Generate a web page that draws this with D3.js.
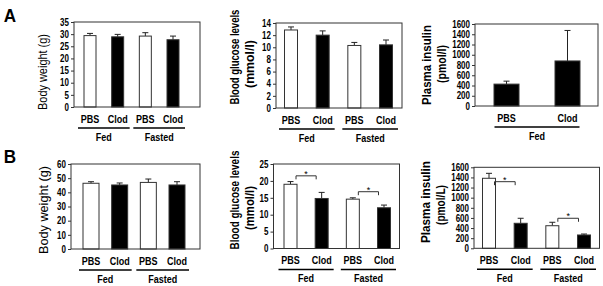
<!DOCTYPE html>
<html lang="en">
<head>
<meta charset="UTF-8">
<title>Clodronate panels</title>
<script src="https://d3js.org/d3.v7.min.js"></script>
<style>
  body { margin: 0; background: #fff; }
  svg { display: block; }
  text { font-family: "Liberation Sans", Arial, sans-serif; }
</style>
</head>
<body>
<svg></svg>
<script>
const w = 603, h = 286;

// data
const groups = ["Fed", "Fasted"];
const treatments = ["PBS", "Clod"];

const weightA = [29.4, 28.9, 29.2, 27.7];
const weightAErr = [0.9, 1.0, 1.4, 1.5];
const glucoseA = [12.85, 12.0, 10.3, 10.4];
const glucoseAErr = [0.5, 0.7, 0.5, 0.8];
const insulinA = [427, 879];
const insulinAErr = [58, 595];

const weightB = [46.4, 45.2, 47.0, 45.2];
const weightBErr = [1.1, 1.4, 2.4, 2.3];
const glucoseB = [19.0, 14.8, 14.6, 12.05];
const glucoseBErr = [0.8, 1.8, 0.4, 0.8];
const glucoseBSig = [21.5, 16.8];
const insulinB = [1383, 494, 446, 263];
const insulinBErr = [98, 99, 68, 19];
const insulinBSig = [1316, 593];

const ticks35 = [0, 5, 10, 15, 20, 25, 30, 35];
const ticks14 = [0, 2, 4, 6, 8, 10, 12, 14];
const ticks1600 = [0, 200, 400, 600, 800, 1000, 1200, 1400, 1600];
const ticks60 = [0, 10, 20, 30, 40, 50, 60];
const ticks25 = [0, 5, 10, 15, 20, 25];

const svg = d3.select("svg").attr("width", w).attr("height", h);

// condensed text: place at (x, y) and squeeze horizontally
function narrowText(parent, x, y, str, size, sx) {
  return parent.append("text")
    .attr("transform", `translate(${x},${y}) scale(${sx},1)`)
    .attr("text-anchor", "middle").attr("font-size", size).attr("font-weight", "bold")
    .text(str);
}

narrowText(svg, 10, 22, "A", 19, 0.9);
narrowText(svg, 10, 163, "B", 19, 0.9);

function panel(o) {
  const g = svg.append("g");
  const groupList = o.groups || groups;
  const keys = [];
  groupList.forEach(gr => treatments.forEach(t => keys.push(gr + "|" + t)));

  const x = d3.scalePoint().domain(keys).range([o.left + o.padL, o.right - o.padR]);
  const y = d3.scaleLinear().domain([0, o.ticks[o.ticks.length - 1]]).range([o.bottom, o.top]);

  const rows = keys.map((k, i) => ({
    key: k, group: k.split("|")[0], treat: k.split("|")[1],
    v: o.values[i], e: o.errors[i]
  }));

  // error bars
  g.selectAll(".err").data(rows).enter().append("line")
    .attr("x1", d => x(d.key)).attr("x2", d => x(d.key))
    .attr("y1", d => y(d.v)).attr("y2", d => y(d.v + d.e))
    .attr("stroke", "#222").attr("stroke-width", 1);
  g.selectAll(".cap").data(rows).enter().append("line")
    .attr("x1", d => x(d.key) - 3).attr("x2", d => x(d.key) + 3)
    .attr("y1", d => y(d.v + d.e)).attr("y2", d => y(d.v + d.e))
    .attr("stroke", "#222").attr("stroke-width", 1);

  // bars
  g.selectAll(".bar").data(rows).enter().append("rect")
    .attr("x", d => x(d.key) - o.barW / 2)
    .attr("width", o.barW)
    .attr("y", d => y(d.v))
    .attr("height", d => y(0) - y(d.v))
    .attr("fill", d => (d.treat === "PBS" && !o.allBlack) ? "#fff" : "#000")
    .attr("stroke", "#333").attr("stroke-width", 1);

  // frame
  g.append("rect").attr("x", o.left).attr("y", o.top)
    .attr("width", o.right - o.left).attr("height", o.bottom - o.top)
    .attr("fill", "none").attr("stroke", "#333").attr("stroke-width", 1);

  // y axis
  const ax = g.append("g").attr("transform", `translate(${o.left},0)`)
    .call(d3.axisLeft(y).tickValues(o.ticks).tickFormat(d3.format("d")).tickSize(3).tickPadding(2));
  ax.select(".domain").remove();
  ax.selectAll("line").attr("stroke", "#333");
  ax.selectAll("text").attr("font-size", 10).attr("font-weight", "bold").attr("fill", "#000")
    .attr("x", -5 / 0.8).attr("transform", "scale(0.8,1)");

  // significance
  if (o.sig) {
    groupList.forEach((gr, i) => {
      const x1 = x(gr + "|PBS") + 5.5, x2 = x(gr + "|Clod") - 5.5, yy = y(o.sig[i]);
      g.append("path").attr("d", `M${x1},${yy + 3.5}V${yy}H${x2}V${yy + 3.5}`)
        .attr("fill", "none").attr("stroke", "#333").attr("stroke-width", 1);
      g.append("text").attr("x", (x1 + x2) / 2).attr("y", yy + 1)
        .attr("text-anchor", "middle").attr("font-size", 9).text("*");
    });
  }

  // category labels
  rows.forEach(d => narrowText(g, x(d.key), o.bottom + 15.5, d.treat, 11, 0.82));
  groupList.forEach(gr => {
    const a = x(gr + "|PBS") - 12, b = x(gr + "|Clod") + 12;
    g.append("line").attr("x1", a).attr("x2", b)
      .attr("y1", o.bottom + 21).attr("y2", o.bottom + 21)
      .attr("stroke", "#000").attr("stroke-width", 1.4);
    narrowText(g, (a + b) / 2, o.bottom + 33.5, gr, 11, 0.82);
  });

  // y label, squeezed to the length measured on the reference
  o.label.forEach((t, i) => {
    const lab = g.append("text")
      .attr("text-anchor", "middle").attr("dominant-baseline", "central")
      .attr("font-size", o.labelSize).attr("font-weight", o.labelBold ? "bold" : "normal")
      .text(t);
    const sx = o.labelLen[i] / lab.node().getComputedTextLength();
    lab.attr("transform", `translate(${o.left + o.labelDx[i]},${o.labelY[i]}) rotate(-90) scale(${sx},1)`);
  });
}

panel({ left: 74, right: 200, top: 22, bottom: 107, padL: 16, padR: 27, barW: 12,
  values: weightA, errors: weightAErr, ticks: ticks35,
  label: ["Body weight (g)"], labelDx: [-31], labelY: [72], labelLen: [76], labelSize: 12 });
panel({ left: 276, right: 402, top: 23, bottom: 108, padL: 15, padR: 16, barW: 13,
  values: glucoseA, errors: glucoseAErr, ticks: ticks14,
  label: ["Blood glucose levels", "(mmol/l)"], labelDx: [-41, -26], labelY: [57, 64], labelLen: [95, 48], labelSize: 12, labelBold: true });
panel({ left: 475, right: 598, top: 24, bottom: 106, padL: 31.5, padR: 30.5, barW: 25,
  groups: ["Fed"], allBlack: true,
  values: insulinA, errors: insulinAErr, ticks: ticks1600,
  label: ["Plasma insulin", "(pmol/l)"], labelDx: [-48, -33], labelY: [65, 64], labelLen: [80, 38], labelSize: 12.5, labelBold: true });

panel({ left: 71, right: 200, top: 164, bottom: 249, padL: 20, padR: 23, barW: 16,
  values: weightB, errors: weightBErr, ticks: ticks60,
  label: ["Body weight (g)"], labelDx: [-28], labelY: [210], labelLen: [88], labelSize: 13 });
panel({ left: 273.5, right: 399.5, top: 164, bottom: 248.5, padL: 17, padR: 15.5, barW: 13,
  values: glucoseB, errors: glucoseBErr, ticks: ticks25, sig: glucoseBSig,
  label: ["Blood glucose levels", "(mmol/l)"], labelDx: [-38.5, -23.5], labelY: [200, 208], labelLen: [99, 44], labelSize: 12.5, labelBold: true });
panel({ left: 474, right: 599.5, top: 167.3, bottom: 248.3, padL: 15, padR: 15.5, barW: 13,
  values: insulinB, errors: insulinBErr, ticks: ticks1600, sig: insulinBSig,
  label: ["Plasma insulin", "(pmol/L)"], labelDx: [-48, -33.5], labelY: [202, 205], labelLen: [82, 40], labelSize: 12.5, labelBold: true });
</script>
</body>
</html>
